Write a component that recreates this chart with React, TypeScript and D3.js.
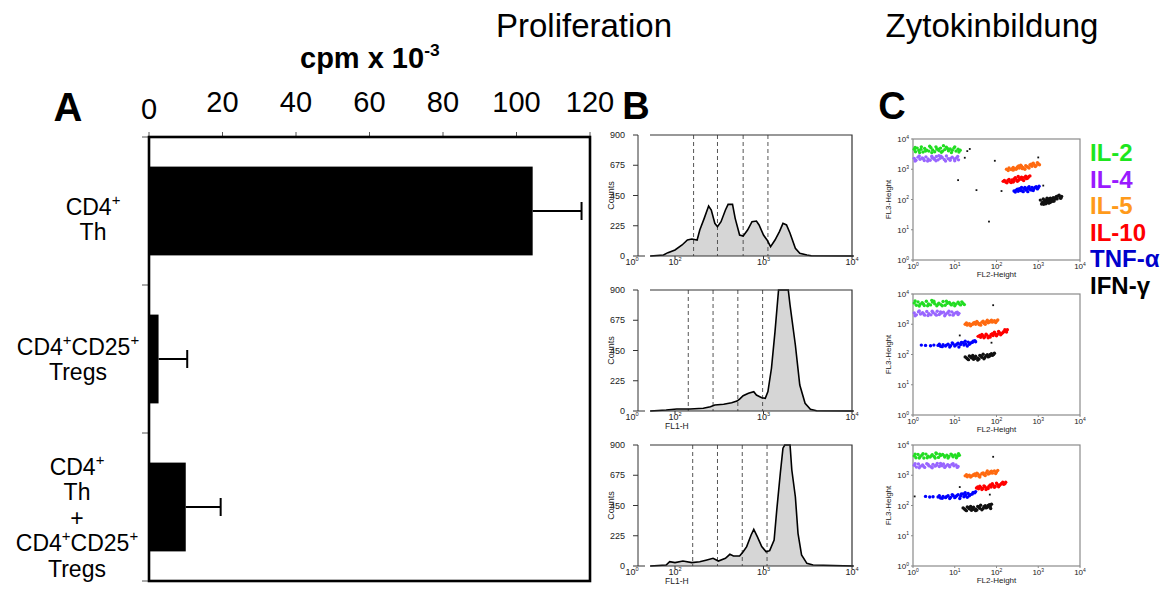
import React from 'react';
import * as d3 from 'd3';

// ---------- Panel A: proliferation, cpm x 10^-3 ----------
const groupNames = ['Th', 'Tregs', 'Th+Tregs'];
const groupLabels = [
  ['CD4{+}', 'Th'],
  ['CD4{+}CD25{+}', 'Tregs'],
  ['CD4{+}', 'Th', '+', 'CD4{+}CD25{+}', 'Tregs'],
];
const cpmMeans = [104.4, 2.6, 10.0];
const cpmErrors = [13.3, 7.8, 9.5];
const cpmTicks = [0, 20, 40, 60, 80, 100, 120];

// ---------- Panel B: CFSE histograms, [log10 FL1-H, counts] ----------
const histTh = [
  [1.72, 0], [1.87, 7], [1.92, 25], [2.0, 45], [2.08, 82], [2.14, 119], [2.19, 126], [2.25, 119],
  [2.28, 193], [2.33, 280], [2.38, 372], [2.41, 342], [2.45, 243], [2.48, 218], [2.52, 255],
  [2.57, 342], [2.6, 384], [2.65, 384], [2.68, 280], [2.73, 156], [2.77, 149], [2.82, 193],
  [2.87, 255], [2.92, 260], [2.95, 231], [3.0, 156], [3.04, 119], [3.08, 69], [3.13, 119],
  [3.18, 181], [3.22, 243], [3.26, 231], [3.3, 169], [3.36, 57], [3.41, 20], [3.49, 7],
  [3.54, 2], [4.02, 0],
];
const histTreg = [
  [1.72, 0], [1.9, 7], [2.02, 15], [2.17, 15], [2.32, 20], [2.4, 32], [2.45, 45], [2.55, 50],
  [2.64, 62], [2.7, 74], [2.73, 89], [2.77, 114], [2.83, 132], [2.89, 144], [2.92, 119],
  [2.98, 99], [3.02, 94], [3.05, 144], [3.09, 318], [3.13, 590], [3.17, 900], [3.28, 900],
  [3.3, 788], [3.36, 491], [3.41, 193], [3.47, 57], [3.53, 12], [3.6, 2], [4.02, 0],
];
const histMix = [
  [1.72, 0], [1.9, 7], [1.94, 32], [2.0, 25], [2.09, 37], [2.19, 25], [2.28, 32], [2.36, 45],
  [2.43, 57], [2.49, 37], [2.57, 57], [2.62, 87], [2.66, 74], [2.73, 74], [2.77, 106],
  [2.81, 144], [2.86, 231], [2.89, 273], [2.93, 218], [2.98, 144], [3.03, 106], [3.07, 114],
  [3.12, 193], [3.15, 417], [3.19, 690], [3.22, 876], [3.24, 900], [3.3, 900], [3.32, 714],
  [3.36, 515], [3.39, 243], [3.43, 82], [3.49, 20], [3.56, 7], [4.02, 0],
];
const gatesTh = [2.21, 2.48, 2.77, 3.05];
const gatesTreg = [2.15, 2.43, 2.71, 2.99];
const gatesMix = [2.2, 2.48, 2.76, 3.04];
const countTicks = [0, 225, 450, 675, 900];

// ---------- Panel C: cytokine dot plots, [log10 FL2, log10 FL3] ----------
const cytokines = ['IL-2', 'IL-4', 'IL-5', 'IL-10', 'TNF-\u03b1', 'IFN-\u03b3'];
const legendColors = ['#1ee61e', '#9a1aff', '#ff9a1a', '#ff0000', '#0000cc', '#000000'];
const dotColors = ['#22dd22', '#9966ff', '#ff6a10', '#ff0000', '#0000ff', '#111111'];

const thIl2 = [[0.03,3.66],[0.06,3.58],[0.1,3.7],[0.14,3.62],[0.19,3.66],[0.24,3.57],[0.28,3.69],[0.33,3.63],[0.38,3.6],[0.43,3.71],[0.47,3.64],[0.52,3.58],[0.57,3.67],[0.62,3.62],[0.66,3.7],[0.71,3.6],[0.76,3.65],[0.8,3.73],[0.85,3.61],[0.89,3.67],[0.94,3.63],[0.98,3.7],[1.03,3.6],[1.08,3.66],[1.13,3.63],[0.73,3.78],[0.4,3.76],
  [0.05,3.72],[0.16,3.55],[0.3,3.6],[0.45,3.55],[0.55,3.74],[0.68,3.56],[0.83,3.68],[0.92,3.55],[1.0,3.74],[1.1,3.57],[0.2,3.74],[0.6,3.66]];
const thIl4 = [[0.03,3.36],[0.07,3.3],[0.12,3.4],[0.17,3.33],[0.22,3.37],[0.27,3.29],[0.31,3.41],[0.36,3.34],[0.41,3.3],[0.46,3.38],[0.51,3.33],[0.56,3.42],[0.6,3.31],[0.65,3.36],[0.7,3.39],[0.75,3.32],[0.8,3.44],[0.84,3.35],[0.89,3.3],[0.94,3.4],[0.99,3.34],[1.04,3.37],[1.09,3.31],[0.62,3.45],
  [0.05,3.27],[0.15,3.44],[0.25,3.35],[0.35,3.27],[0.45,3.43],[0.55,3.28],[0.67,3.43],[0.78,3.27],[0.9,3.36],[1.0,3.28],[1.07,3.42],[0.5,3.36]];
const thIl5 = [[2.24,3.0],[2.3,3.04],[2.35,2.99],[2.4,3.06],[2.45,3.02],[2.5,3.08],[2.55,3.04],[2.6,3.1],[2.64,3.05],[2.7,3.12],[2.75,3.07],[2.8,3.14],[2.85,3.1],[2.9,3.16],[2.95,3.12],[3.0,3.18],[2.68,3.0],[2.58,3.13],[2.88,3.2],[2.4,2.97],
  [2.28,2.96],[2.38,3.02],[2.47,3.0],[2.53,3.11],[2.62,3.02],[2.72,3.09],[2.78,3.04],[2.83,3.17],[2.93,3.09],[2.98,3.22],[3.03,3.15],[2.5,3.04]];
const thIl10 = [[2.16,2.6],[2.22,2.58],[2.27,2.63],[2.32,2.59],[2.37,2.65],[2.42,2.61],[2.47,2.67],[2.52,2.63],[2.57,2.7],[2.62,2.66],[2.67,2.73],[2.72,2.69],[2.77,2.75],[2.45,2.72],[2.6,2.74],[2.35,2.56],[2.7,2.77],
  [2.19,2.63],[2.25,2.55],[2.3,2.66],[2.4,2.58],[2.5,2.6],[2.55,2.66],[2.65,2.63],[2.75,2.71],[2.8,2.78],[2.52,2.76],[2.42,2.68]];
const thTnf = [[2.42,2.28],[2.47,2.31],[2.52,2.27],[2.56,2.33],[2.61,2.29],[2.66,2.36],[2.7,2.31],[2.75,2.38],[2.8,2.34],[2.85,2.4],[2.9,2.36],[2.95,2.42],[3.0,2.39],[2.6,2.4],[2.75,2.26],[2.88,2.3],
  [2.45,2.25],[2.5,2.34],[2.58,2.3],[2.64,2.26],[2.68,2.4],[2.72,2.34],[2.78,2.42],[2.83,2.31],[2.92,2.4],[2.98,2.35],[3.02,2.44],[2.55,2.36]];
const thIfn = [[3.05,1.98],[3.1,1.9],[3.12,2.02],[3.16,1.94],[3.18,1.86],[3.2,1.98],[3.22,1.92],[3.24,2.02],[3.25,1.88],[3.27,1.96],[3.29,2.04],[3.3,1.92],[3.33,1.99],[3.36,2.06],[3.38,1.95],[3.42,2.08],[3.45,2.02],[3.48,2.12],[3.52,2.06],[3.56,2.1],[3.22,1.97],[3.26,1.99],[3.19,1.95],[3.28,1.9],
  [3.14,1.98],[3.18,1.9],[3.21,2.04],[3.23,1.94],[3.25,1.99],[3.26,1.93],[3.3,1.97],[3.32,2.02],[3.35,1.94],[3.4,2.02],[3.44,2.1],[3.5,2.14],[3.08,1.85],[3.13,1.84],[3.54,2.04]];
const thOther = [[1.36,3.67],[1.3,3.6],[1.24,3.38],[1.08,2.64],[1.52,2.31],[1.82,1.27],[1.96,3.28],[3.0,3.39],[2.12,2.28],[3.12,2.46]];

const tregIl2 = [[0.03,3.7],[0.08,3.63],[0.12,3.74],[0.17,3.66],[0.22,3.71],[0.27,3.62],[0.32,3.76],[0.37,3.67],[0.42,3.64],[0.47,3.73],[0.52,3.68],[0.57,3.61],[0.62,3.7],[0.67,3.65],[0.72,3.75],[0.77,3.63],[0.82,3.69],[0.87,3.72],[0.92,3.64],[0.97,3.7],[1.02,3.66],[1.08,3.73],[1.14,3.64],[1.2,3.69],[0.45,3.79],
  [0.05,3.77],[0.15,3.6],[0.25,3.67],[0.35,3.61],[0.5,3.76],[0.6,3.66],[0.7,3.61],[0.8,3.76],[0.9,3.67],[1.0,3.61],[1.1,3.68],[1.17,3.74],[1.23,3.65]];
const tregIl4 = [[0.03,3.37],[0.08,3.31],[0.13,3.41],[0.18,3.34],[0.23,3.38],[0.28,3.3],[0.33,3.42],[0.38,3.35],[0.43,3.31],[0.48,3.39],[0.53,3.34],[0.58,3.43],[0.63,3.32],[0.68,3.37],[0.73,3.4],[0.78,3.33],[0.83,3.38],[0.88,3.31],[0.93,3.41],[0.98,3.35],[1.03,3.38],[1.08,3.32],
  [0.05,3.28],[0.15,3.44],[0.26,3.34],[0.36,3.29],[0.46,3.43],[0.56,3.3],[0.66,3.41],[0.76,3.28],[0.86,3.43],[0.96,3.3],[1.06,3.4],[1.1,3.36]];
const tregIl5 = [[1.25,3.0],[1.3,2.97],[1.35,3.02],[1.4,2.99],[1.45,3.04],[1.5,3.0],[1.55,3.05],[1.6,3.02],[1.65,3.07],[1.7,3.03],[1.75,3.08],[1.8,3.05],[1.85,3.1],[1.9,3.07],[1.95,3.12],[2.0,3.1],[1.62,2.97],[1.78,3.13],
  [1.28,3.04],[1.38,2.95],[1.43,3.0],[1.53,3.09],[1.58,2.99],[1.68,3.1],[1.73,3.0],[1.83,3.07],[1.88,3.13],[1.98,3.06],[2.03,3.14],[1.48,3.06]];
const tregIl10 = [[1.56,2.6],[1.62,2.57],[1.67,2.62],[1.72,2.59],[1.77,2.64],[1.82,2.6],[1.87,2.66],[1.92,2.63],[1.97,2.69],[2.02,2.66],[2.07,2.72],[2.12,2.69],[2.17,2.75],[2.22,2.78],[2.26,2.82],[1.95,2.74],[1.8,2.55],
  [1.6,2.63],[1.7,2.55],[1.75,2.67],[1.85,2.58],[1.9,2.69],[2.0,2.62],[2.05,2.76],[2.1,2.65],[2.15,2.72],[2.2,2.82],[2.24,2.74],[1.65,2.66]];
const tregTnf = [[0.6,2.3],[0.66,2.27],[0.72,2.32],[0.78,2.28],[0.84,2.34],[0.9,2.29],[0.96,2.35],[1.02,2.31],[1.08,2.37],[1.14,2.33],[1.2,2.39],[1.26,2.35],[1.32,2.41],[1.38,2.38],[1.44,2.44],[1.5,2.42],[1.1,2.25],[1.3,2.28],[0.2,2.31],[0.3,2.3],[0.42,2.29],[0.5,2.31],
  [0.63,2.34],[0.7,2.26],[0.8,2.31],[0.88,2.25],[0.94,2.38],[1.0,2.28],[1.05,2.34],[1.16,2.4],[1.22,2.31],[1.35,2.34],[1.42,2.4],[1.48,2.46],[1.25,2.44]];
const tregIfn = [[1.25,1.92],[1.3,1.86],[1.35,1.95],[1.4,1.89],[1.45,1.84],[1.5,1.94],[1.55,1.88],[1.6,1.97],[1.65,1.91],[1.7,1.86],[1.75,1.96],[1.8,1.92],[1.85,2.0],[1.9,1.97],[1.95,2.04],[1.55,1.82],[1.68,2.01],
  [1.28,1.89],[1.33,1.83],[1.38,1.93],[1.43,1.97],[1.48,1.87],[1.58,1.85],[1.63,1.95],[1.72,1.9],[1.78,1.99],[1.83,1.94],[1.88,2.03],[1.93,2.0],[1.45,1.91]];
const tregOther = [[1.92,3.63],[1.12,2.63],[1.88,2.39]];

const mixIl2 = [[0.03,3.64],[0.07,3.58],[0.12,3.69],[0.17,3.61],[0.21,3.66],[0.26,3.57],[0.31,3.7],[0.36,3.63],[0.41,3.6],[0.46,3.68],[0.51,3.62],[0.56,3.71],[0.61,3.59],[0.66,3.65],[0.71,3.69],[0.76,3.6],[0.81,3.66],[0.86,3.62],[0.91,3.7],[0.96,3.61],[1.01,3.67],[1.06,3.63],[1.11,3.66],[0.55,3.74],
  [0.05,3.7],[0.15,3.57],[0.24,3.71],[0.34,3.58],[0.44,3.64],[0.53,3.57],[0.64,3.7],[0.74,3.65],[0.84,3.57],[0.94,3.66],[1.04,3.58],[1.09,3.71]];
const mixIl4 = [[0.03,3.33],[0.08,3.27],[0.13,3.37],[0.18,3.3],[0.23,3.34],[0.28,3.26],[0.33,3.38],[0.38,3.31],[0.43,3.28],[0.48,3.36],[0.53,3.3],[0.58,3.39],[0.63,3.29],[0.68,3.34],[0.73,3.37],[0.78,3.3],[0.83,3.35],[0.88,3.28],[0.93,3.36],[0.98,3.31],[1.03,3.34],[1.08,3.29],
  [0.05,3.38],[0.15,3.25],[0.25,3.3],[0.36,3.36],[0.46,3.25],[0.56,3.33],[0.66,3.39],[0.76,3.26],[0.86,3.32],[0.96,3.38],[1.06,3.26],[0.7,3.31]];
const mixIl5 = [[1.25,2.98],[1.3,2.95],[1.35,3.0],[1.4,2.97],[1.45,3.02],[1.5,2.98],[1.55,3.04],[1.6,3.0],[1.65,3.06],[1.7,3.02],[1.75,3.08],[1.8,3.04],[1.85,3.11],[1.9,3.07],[1.95,3.14],[2.0,3.11],[1.6,2.94],[1.78,3.14],
  [1.28,3.02],[1.38,2.94],[1.43,2.99],[1.53,3.07],[1.58,2.97],[1.68,3.08],[1.73,2.99],[1.83,3.06],[1.88,3.13],[1.98,3.06],[2.03,3.16],[1.48,3.04]];
const mixIl10 = [[1.52,2.58],[1.57,2.55],[1.62,2.6],[1.67,2.56],[1.72,2.62],[1.77,2.58],[1.82,2.64],[1.87,2.61],[1.92,2.67],[1.97,2.63],[2.02,2.7],[2.07,2.66],[2.12,2.73],[2.17,2.7],[2.22,2.77],[1.9,2.72],[1.75,2.53],
  [1.55,2.61],[1.65,2.53],[1.7,2.65],[1.8,2.56],[1.85,2.68],[1.95,2.6],[2.0,2.74],[2.05,2.62],[2.1,2.7],[2.15,2.77],[2.2,2.72],[1.6,2.64]];
const mixTnf = [[0.6,2.28],[0.66,2.25],[0.72,2.3],[0.78,2.26],[0.84,2.32],[0.9,2.27],[0.96,2.33],[1.02,2.29],[1.08,2.36],[1.14,2.31],[1.2,2.38],[1.26,2.34],[1.32,2.4],[1.38,2.36],[1.44,2.43],[1.5,2.46],[1.12,2.23],[1.3,2.27],[0.3,2.3],[0.4,2.28],[0.48,2.29],
  [0.63,2.32],[0.7,2.24],[0.8,2.29],[0.88,2.23],[0.94,2.36],[1.0,2.26],[1.05,2.32],[1.16,2.38],[1.22,2.29],[1.35,2.32],[1.42,2.38],[1.48,2.42],[1.25,2.42]];
const mixIfn = [[1.2,1.92],[1.25,1.86],[1.3,1.95],[1.35,1.89],[1.4,1.84],[1.45,1.94],[1.5,1.88],[1.55,1.97],[1.6,1.91],[1.65,1.86],[1.7,1.96],[1.75,1.92],[1.8,2.0],[1.85,1.97],[1.88,2.04],[1.5,1.83],[1.62,2.01],
  [1.23,1.89],[1.28,1.83],[1.33,1.93],[1.38,1.97],[1.43,1.87],[1.53,1.85],[1.58,1.95],[1.68,1.9],[1.73,1.99],[1.78,1.94],[1.83,2.03],[1.86,1.9],[1.42,1.91]];
const mixOther = [[1.92,3.61],[1.12,2.61],[1.84,2.36],[0.04,2.3]];

const logDecades = [0, 1, 2, 3, 4];

const FONT = 'Liberation Sans, Arial, Helvetica, sans-serif';

// text with {superscript} parts
const rich = (text: string, size: number, supScale = 0.62) => {
  const parts = text.split(/\{([^}]*)\}/);
  const rise = size * 0.42;
  let up = false;
  return parts.map((p, i) => {
    if (!p) return null;
    const sup = i % 2 === 1;
    let dy = 0;
    if (sup && !up) { dy = -rise; up = true; }
    else if (!sup && up) { dy = rise; up = false; }
    return (
      <tspan key={i} dy={dy} fontSize={sup ? size * supScale : size}>{p}</tspan>
    );
  });
};

function PanelA() {
  const x = d3.scaleLinear().domain([0, 120]).range([149, 590]);
  const y = d3.scaleBand<string>().domain(groupNames).range([137, 581])
    .paddingInner(0.4).paddingOuter(0.2);
  const [top, bottom] = y.range();
  const labelX = [93, 78, 77];
  const labelShift = [8, 0, 10];
  const lineH = 25.5;
  return (
    <g fontFamily={FONT}>
      <text x={68} y={121} fontSize={40} fontWeight="bold" textAnchor="middle">A</text>
      <text x={300} y={68} fontSize={29} fontWeight="bold">{rich('cpm x 10{-3}', 29, 0.6)}</text>
      {cpmTicks.map((t, i) => (
        <g key={t}>
          <line x1={x(t)} x2={x(t)} y1={top} y2={top - 5} stroke="#555" />
          <text x={x(t)} y={i === 0 ? 119 : 111.5} fontSize={29} textAnchor="middle">{t}</text>
        </g>
      ))}
      {d3.range(groupNames.length + 1).map((i) => (
        <line key={i} x1={142} x2={149} y1={top + i * y.step()} y2={top + i * y.step()} stroke="#555" />
      ))}
      {groupNames.map((g, i) => {
        const cy = (y(g) as number) + y.bandwidth() / 2;
        const xe = x(cpmMeans[i] + cpmErrors[i]);
        return (
          <g key={g}>
            <rect x={x(0)} y={y(g)} width={x(cpmMeans[i]) - x(0)} height={y.bandwidth()} fill="#000" />
            <line x1={x(cpmMeans[i])} x2={xe} y1={cy} y2={cy} stroke="#000" strokeWidth={2} />
            <line x1={xe} x2={xe} y1={cy - 9} y2={cy + 9} stroke="#000" strokeWidth={2} />
          </g>
        );
      })}
      <rect x={x(0)} y={top} width={x(120) - x(0)} height={bottom - top} fill="none" stroke="#000" strokeWidth={2.6} />
      {groupLabels.map((lines, i) => {
        const cy = (y(groupNames[i]) as number) + y.bandwidth() / 2;
        const first = cy - ((lines.length - 1) / 2) * lineH + 8.5 + labelShift[i];
        return lines.map((ln, j) => (
          <text key={`${i}-${j}`} x={labelX[i]} y={first + j * lineH} fontSize={23} textAnchor="middle">
            {rich(ln, 23, 0.65)}
          </text>
        ));
      })}
    </g>
  );
}

function Histogram({ data, gates, top, showXLabel }: { data: number[][]; gates: number[]; top: number; showXLabel: boolean }) {
  const h = 121;
  const bottom = top + h;
  const x = d3.scaleLog().domain([100, 10000]).range([675, 852]);
  const y = d3.scaleLinear().domain([0, 900]).range([bottom, top]);
  const boxL = 650;
  const axisX = 638;
  const area = d3.area<number[]>().x((d) => x(10 ** d[0])).y0(bottom).y1((d) => y(d[1]));
  const line = d3.line<number[]>().x((d) => x(10 ** d[0])).y((d) => y(d[1]));
  const xTicks = [2, 3, 4];
  return (
    <g fontFamily={FONT} fill="#222">
      <path d={area(data) || ''} fill="#d6d6d6" stroke="none" />
      {gates.map((g) => (
        <line key={g} x1={x(10 ** g)} x2={x(10 ** g)} y1={top} y2={bottom} stroke="#555" strokeDasharray="4,3" strokeWidth={1} />
      ))}
      <path d={line(data) || ''} fill="none" stroke="#000" strokeWidth={1.6} />
      <path d={`M${boxL},${top}H852V${bottom}H${boxL}`} fill="none" stroke="#333" strokeWidth={1.2} />
      <line x1={axisX} x2={axisX} y1={top} y2={bottom} stroke="#333" />
      <line x1={axisX} x2={645} y1={bottom} y2={bottom} stroke="#333" />
      {countTicks.map((t) => (
        <g key={t}>
          <line x1={axisX - 5} x2={axisX} y1={y(t)} y2={y(t)} stroke="#333" />
          <text x={axisX - 13} y={y(t) + 3} fontSize={9} textAnchor="end">{t}</text>
        </g>
      ))}
      <text transform={`translate(614,${top + h / 2}) rotate(-90)`} fontSize={9} textAnchor="middle">Counts</text>
      <text x={632} y={bottom + 9} fontSize={9} textAnchor="middle">{rich('10{0}', 9)}</text>
      {xTicks.map((d) => (
        <g key={d}>
          <line x1={x(10 ** d)} x2={x(10 ** d)} y1={bottom} y2={bottom + 3} stroke="#333" />
          <text x={x(10 ** d)} y={bottom + 9} fontSize={9} textAnchor="middle">{rich(`10{${d}}`, 9)}</text>
        </g>
      ))}
      {showXLabel && <text x={665} y={bottom + 18} fontSize={8.5}>FL1-H</text>}
    </g>
  );
}

function DotPlot({ clusters, other, top }: { clusters: number[][][]; other: number[][]; top: number }) {
  const h = 121;
  const bottom = top + h;
  const x = d3.scaleLog().domain([1, 10000]).range([913, 1080]);
  const y = d3.scaleLog().domain([1, 10000]).range([bottom, top]);
  return (
    <g fontFamily={FONT} fill="#222">
      <rect x={x(1)} y={top} width={x(10000) - x(1)} height={h} fill="none" stroke="#8a8a8a" strokeWidth={1.2} />
      {logDecades.map((d) => (
        <g key={d}>
          <line x1={x(10 ** d)} x2={x(10 ** d)} y1={bottom} y2={bottom + 2} stroke="#8a8a8a" />
          <line x1={x(1) - 2} x2={x(1)} y1={y(10 ** d)} y2={y(10 ** d)} stroke="#8a8a8a" />
          <text x={x(10 ** d)} y={bottom + 9} fontSize={8} textAnchor="middle">{rich(`10{${d}}`, 8)}</text>
          <text x={x(1) - 4} y={y(10 ** d) + 3} fontSize={8} textAnchor="end">{rich(`10{${d}}`, 8)}</text>
        </g>
      ))}
      <text x={(x(1) + x(10000)) / 2} y={bottom + 17} fontSize={8} textAnchor="middle">FL2-Height</text>
      <text transform={`translate(891,${top + h / 2}) rotate(-90)`} fontSize={8} textAnchor="middle">FL3-Height</text>
      {other.map((p, i) => (
        <rect key={`o${i}`} x={x(10 ** p[0]) - 0.9} y={y(10 ** p[1]) - 0.9} width={1.8} height={1.8} fill="#111" />
      ))}
      {clusters.map((pts, c) =>
        pts.map((p, i) => (
          <circle key={`${c}-${i}`} cx={x(10 ** p[0])} cy={y(10 ** p[1])} r={1.7} fill={dotColors[c]} />
        ))
      )}
    </g>
  );
}

export default function App() {
  const histTops = [135, 290, 445];
  const dotTops = [139, 294, 445];
  return (
    <svg width={1171} height={589} style={{ position: 'absolute', left: 0, top: 0, background: '#fff' }}>
      <rect width={1171} height={589} fill="#fff" />
      <text x={584} y={37} fontFamily={FONT} fontSize={33} textAnchor="middle">Proliferation</text>
      <text x={992} y={37} fontFamily={FONT} fontSize={33} textAnchor="middle">Zytokinbildung</text>
      <text x={636} y={119} fontFamily={FONT} fontSize={38} fontWeight="bold" textAnchor="middle">B</text>
      <text x={892} y={119} fontFamily={FONT} fontSize={38} fontWeight="bold" textAnchor="middle">C</text>
      <PanelA />
      <Histogram data={histTh} gates={gatesTh} top={histTops[0]} showXLabel={false} />
      <Histogram data={histTreg} gates={gatesTreg} top={histTops[1]} showXLabel />
      <Histogram data={histMix} gates={gatesMix} top={histTops[2]} showXLabel />
      <DotPlot clusters={[thIl2, thIl4, thIl5, thIl10, thTnf, thIfn]} other={thOther} top={dotTops[0]} />
      <DotPlot clusters={[tregIl2, tregIl4, tregIl5, tregIl10, tregTnf, tregIfn]} other={tregOther} top={dotTops[1]} />
      <DotPlot clusters={[mixIl2, mixIl4, mixIl5, mixIl10, mixTnf, mixIfn]} other={mixOther} top={dotTops[2]} />
      {cytokines.map((c, i) => (
        <text key={c} x={1090} y={161 + i * 26.5} fontFamily={FONT} fontSize={24} fontWeight="bold" fill={legendColors[i]}>{c}</text>
      ))}
    </svg>
  );
}
